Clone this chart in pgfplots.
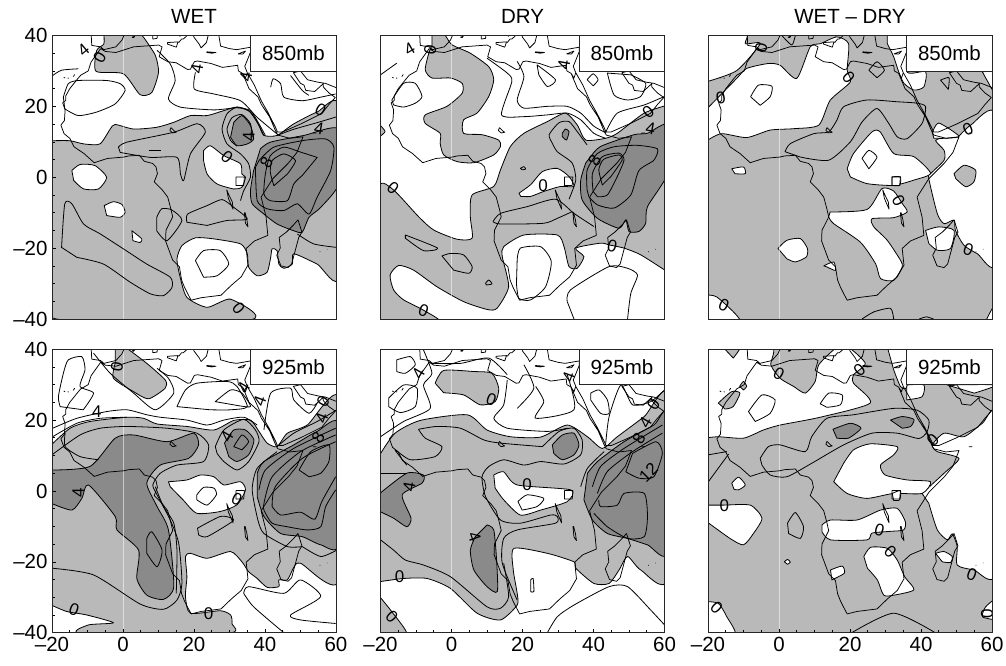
\documentclass[border=0pt]{standalone}
\usepackage{pgfplots}
\pgfplotsset{compat=1.18}
\usepackage{pgfplotstable}
\usepackage{fontspec}
\setmainfont{Liberation Sans}
\definecolor{lg}{HTML}{B9B9B9}
\definecolor{dk}{HTML}{8A8A8A}
\newcommand\tfont{\fontsize{20.5}{23}\selectfont}
\newcommand\lfont{\fontsize{17}{17}\selectfont}
\pgfplotsset{ctr/.style={draw=black,line width=.8pt,line join=round,smooth,tension=.4}}
\newcommand\LG[1]{\addplot[ctr,fill=lg] coordinates {#1} --cycle;}
\newcommand\WH[1]{\addplot[ctr,fill=white] coordinates {#1} --cycle;}
\newcommand\DK[1]{\addplot[ctr,fill=dk] coordinates {#1} --cycle;}
\newcommand\LN[1]{\addplot[ctr] coordinates {#1};}
\newcommand\CL[1]{\addplot[ctr] coordinates {#1} --cycle;}
\newcommand\lab[3]{\node[rotate=#2,font=\lfont,inner sep=0pt] at (axis cs:#1) {#3};}
\newcommand\meridian{\addplot[draw=white,opacity=.55,line width=.6pt] coordinates {(0,-40) (0,40)};}
\newcommand\level[1]{\draw[fill=white,draw=black!85,line width=.8pt] (axis cs:36,30) rectangle (axis cs:60,40); \node[font=\tfont] at (axis cs:48,35) {#1};}
\newcommand\coastline{\addplot[draw=black,line width=.75pt,line join=round] table[x=x,y=y] {\coast};}
\pgfplotstableread{
x y
-6.3 36.3
-9 32.5
-9.8 30
-11.9 28.8
-13 27.5
-15 25
-16.1 23
-16.1 21.7
-17 21
-16.3 19
-16.5 16
-17.5 14.7
-16.6 12.3
-15 11
-13.8 8.6
-11 6.7
-8.1 4.1
-4.4 5.3
0.3 5.7
1.5 6
4.6 6.2
6 4.5
8.3 3.9
9.3 2.9
9.7 1
8.8 -1.3
11 -3.5
12.6 -5.6
13.5 -9
14 -11.2
12.1 -15
12 -18
14 -23.4
15.9 -25.3
16.5 -29
17.3 -31
18.2 -32.8
19.2 -34.7
22 -34
27.6 -33.3
30.5 -30.5
33.3 -28.1
35.2 -24.8
34.7 -20.1
37 -18
40.8 -16.4
40.3 -11.2
39.5 -8
38.9 -5.6
42.2 -0.4
46.5 3.9
49 7
50.7 11.4
47 11
43.6 11.9
43 13
41.3 17
39 20.5
38 22.7
35.5 25
33.7 29.3
32.5 30
32.3 31.6
28 31
24.8 32.1
21 32.8
20.1 32.6
19 30.5
18.2 30.4
15 32.3
12.6 32.6
10.2 34
11 36.8
10 37.3
3 36.8
-2 35.2
-5 35.5
-6.3 36.3
nan nan
33.7 29.3
34.5 28
35 29.5
37 26
39 21.5
41 18
43 14
43.5 12.8
45 12.8
50 15
53 16.5
56 18
58 20.5
59.8 22.5
58 23.8
56.4 25.5
56.4 26.4
54 24.2
51.5 24.5
51 26
50 26.5
48 29.5
50 30
52 27.5
55 26.8
57 26.5
60 25.3
nan nan
35 29.5
34.3 31.3
35 33
36 35.5
36 36.7
32 36
30 36.3
27.5 37
27 40
nan nan
26 40.5
24 40
23.5 38
22 36.5
21.5 37.5
20 39.5
19.5 41
nan nan
15.7 38
16.5 39
17 39
18.3 40.2
16.9 40.4
16 39.8
15.7 40.2
14 41
nan nan
12.5 38
15.5 38.2
15 36.7
12.5 37.6
12.5 38
nan nan
8.4 39
9.6 39.2
9.7 41
8.3 41
8.4 39
nan nan
23.6 35.4
26.2 35.2
25 35
23.6 35.2
23.6 35.4
nan nan
32.4 34.8
34.5 35.6
33.8 34.8
32.4 34.8
nan nan
-9 41
-8.8 37.2
-6.3 36.8
-5.4 36
-2 36.8
-0.3 38.7
0.5 40.5
nan nan
2.5 39.5
3.3 39.8
3 39.4
2.5 39.5
nan nan
-16.7 28.2
-16.3 28
nan nan
-15.6 28
-15.3 27.9
nan nan
-14 28.4
-13.6 29
nan nan
55.4 -21
55.6 -21
nan nan
57.4 -20.3
57.6 -20.3
nan nan
53.5 12.5
54.5 12.5
nan nan
31.8 0.1
34.2 0.1
34 -2.3
31.8 -2.3
31.8 0.1
nan nan
29.2 -3.5
29.7 -6
31 -9
30.8 -7
29.6 -4.5
29.2 -3.5
nan nan
34.2 -10
34.5 -13
35.2 -14
34.9 -12
34.4 -10
34.2 -10
nan nan
13.5 14
14.5 13
15 12.7
14 12.5
13.2 13.2
13.5 14
nan nan
49.3 -12
50.4 -15.5
49.5 -17
47.5 -24.5
46.5 -25.5
44.5 -25
43.3 -22
44.3 -20
44 -17
46 -15.5
48 -13.5
49.3 -12
}\coast
\pgfplotsset{panel/.style={width=284pt,height=283.5pt,scale only axis,xmin=-20,xmax=60,ymin=-40,ymax=40,axis on top,unbounded coords=jump,
  tick align=inside,major tick length=4pt,minor tick length=3pt,tick style={black,line width=.6pt},axis line style={black!85,line width=.9pt},
  tick label style={font=\tfont},xtick pos=bottom,ytick pos=left,xtick=\empty,ytick=\empty,
  title style={font=\tfont,at={(0.5,1)},anchor=south,yshift=2pt}},
  xax/.style={xtick={-20,0,20,40,60},xticklabels={–20,0,20,40,60},minor xtick={-15,-10,-5,5,10,15,25,30,35,45,50,55},xticklabel style={yshift=-1pt}},
  yax/.style={ytick={-40,-20,0,20,40},yticklabels={–40,–20,0,20,40},minor ytick={-35,-30,-25,-15,-10,-5,5,10,15,25,30,35},yticklabel style={xshift=-1pt}}}
\begin{document}
\begin{tikzpicture}[x=1pt,y=1pt]
\path[use as bounding box] (0,0) rectangle (1006,666);
% ---------- WET 850
\begin{axis}[panel,yax,at={(52pt,347pt)},anchor=south west,title={WET}]
\LG{(-20.2,10.3)(-15,10.3)(-11,9.4)(-6.5,9.4)(-3.6,13.6)(-2.2,14.9)(3,13.6)(9.5,14.1)(14.3,15.5)(19,17.4)(23.7,17.4)(28.4,18.8)(32.1,19.8)(35.9,18.4)(38.3,14.6)(39.7,11.8)(43.4,11.8)(48,15)(54.7,18.4)(61,19.6)(61,-27.8)(54.7,-24.5)(48.1,-21.6)(47.7,-24.5)(45.3,-25.7)(43.9,-24.5)(43.4,-20.7)(42,-20.2)(41.6,-22.6)(40.6,-26.8)(37.8,-27.8)(35.4,-25.4)(35,-21.6)(33.1,-18.8)(25.6,-17.4)(20.4,-17.1)(16.6,-19.3)(15.2,-23.1)(16.1,-28.2)(18,-33.9)(23.7,-36.7)(30.3,-34.4)(35.9,-40.2)(-17.3,-40.2)(-20.2,-36.2)}
\LG{(-5.4,40.5)(-5.4,37.6)(-7.4,35.8)(-7.6,29.9)(0.1,29.2)(4.8,23.3)(8.1,23.9)(10,29.6)(9.1,34.4)(5.8,39.5)(4.8,40.5)}
\WH{(-14.4,1.9)(-12.1,3.6)(-7.9,3.3)(-4.6,0)(-6.9,-3.3)(-11.1,-3.3)(-13.9,-0.9)}
\WH{(-5.3,-8)(-2.7,-6.9)(-0.3,-7.7)(0.6,-9.9)(-0.8,-11.3)(-4.6,-10.8)}
\WH{(2.5,-15.1)(5.3,-17.4)(4.8,-18.4)(2.8,-17.9)}
\WH{(22.7,7.5)(24.6,8.9)(28.4,6.1)(33.1,3.8)(33.5,0.9)(34.5,0)(33.5,-2.8)(31.2,-3.3)(26.5,-1.9)(23.7,0.9)(22.7,4.7)}
\DK{(31.2,15.5)(33.5,17.4)(35.9,14.6)(36.8,10.8)(35,9.4)(32.1,8.9)(30.3,11.3)}
\DK{(38.7,8)(41.5,9.9)(51,11.8)(61,13.6)(61,-1.4)(55.7,-8.5)(52.4,-11.3)(50.5,-15.5)(48.1,-15.1)(43.4,-13.2)(39.7,-10.4)(36.4,-7.5)(35.9,-3.8)(36.8,1.9)}
\meridian
\CL{(-17.3,-19.8)(-16.4,-7.5)(-14.4,-7.5)(-11.1,-13.2)(-6.4,-16)(0.1,-20.2)(6.7,-24.5)(13.3,-28.2)(13.8,-31.1)(11.4,-33.4)(7.7,-32.9)(2,-29.6)(-5.5,-24.5)(-13,-22.6)}
\CL{(-1.3,8.5)(1.1,9.9)(14.3,12.7)(20.9,15.1)(23.2,12.7)(19,6.6)(17.1,-0.9)(16.2,0.9)(15.2,5.6)(7.7,5.6)(-0.8,7)}
\LN{(7.2,7.6)(10.6,7.6)}
\LN{(39.7,11.8)(37.8,15.5)(35.4,18.8)(32.1,19.8)(29.3,17.9)(27.9,13.6)(29.3,9.4)(33.1,6.6)(35.4,3.8)(35.9,0)(34,-3.8)(33.1,-6.6)}
\LN{(36.4,11.3)(35.9,15.1)(33.5,17.7)(30.7,16.8)(29.3,13.6)(30.3,10.4)(32.1,8.8)}
\CL{(18,-12.7)(18.2,-10.4)(23.7,-8)(27.9,-6.3)(31.2,-8.5)(35,-11.8)(29.3,-12.2)(23.7,-13.6)}
\CL{(9.5,-11.3)(10.9,-8.9)(13.7,-9.2)(16.6,-12.2)(12.4,-17.9)(9.5,-15.1)}
\CL{(-16.8,22.6)(-15.4,26.4)(-12.6,27.3)(-4.6,27.3)(-0.8,26.4)(0.6,24.5)(-2.2,20.7)(-7.4,18.4)(-12.6,17.4)(-16.4,19.3)}
\LN{(-19.8,28.7)(-17.3,30.2)(-12.6,30.6)}
\LN{(9.6,35.8)(13.3,32)(14.7,27.3)(12.8,22.1)(16.1,19.8)(25.6,19)(32.1,19.6)(35.9,18.8)(38.3,15.1)(40.1,11.8)}
\LN{(20.4,29.6)(20.1,24.9)(25.6,23.5)(33.1,21.6)(37.8,16.9)(43.4,12.2)}
\LN{(41.6,25.4)(42.3,27.8)(44.4,26.4)(45.3,22.6)(50.5,21.6)(55.7,22.6)(59.9,23.5)}
\LN{(47.2,28.7)(50.5,24.5)(52.4,23.1)}
\LN{(43.4,11.8)(48,13.5)(55,15.5)(60,17)}
\LN{(60.2,-19.8)(53.7,-18.8)(49.1,-16)}
\CL{(54.7,5.6)(50,7.1)(45.3,8.5)(41.5,6.1)(40.1,0.9)(39.7,-4.7)(41.5,-6.6)(46.3,-6.6)(48.1,-1.9)(50.5,0.5)}
\CL{(37.3,2.8)(37.8,-6.6)(40.6,-8.9)(45.3,-9.4)(49.1,-7.5)(52.4,-10.4)(54.7,-5.6)(58.5,1.9)(59.4,8.5)(57.1,10.8)(51,10.4)(42.5,8.5)(38.3,4.7)}
\CL{(42.5,-2.4)(41.5,1.4)(42,4.7)(45.3,6.6)(48.6,4.7)(46.3,0.9)}
\CL{(20.4,-23.5)(22.7,-20.7)(27.4,-20.7)(29.8,-24.5)(26.5,-27.8)(22.7,-28.2)}
\coastline
\lab{-6.6,33.7}{60}{0}\lab{29.3,5.6}{-40}{0}\lab{55.7,19}{-30}{0}\lab{32.6,-36.9}{-50}{0}\lab{40.4,4.3}{60}{8}\lab{55.2,13.6}{-10}{4}\lab{20.8,30.6}{80}{4}\lab{-11.1,35.8}{40}{4}\lab{35.4,11.3}{90}{4}\lab{34.6,28.4}{80}{4}
\level{850mb}
\end{axis}
% ---------- DRY 850
\begin{axis}[panel,at={(380.5pt,347pt)},anchor=south west,title={DRY}]
\LG{(-5.5,40.5)(-2.2,40.5)(0.1,37.4)(5.3,35)(10.5,31.2)(11.9,27.5)(10.5,22.8)(7.2,18.1)(3.4,16.2)(3.4,12.4)(8.6,12)(13.3,10.5)(13.8,8.7)(11.9,6.3)(6.3,4.1)(1.6,4.4)(-2.2,6.3)(-3.2,9.6)(-3.2,12.4)(-7.4,15.2)(-7.4,17.6)(-1.3,20)(3,23.7)(3,26.5)(-0.3,28)(-5.5,28)(-7.4,30.3)(-6.4,35)(-5.5,37.2)}
\LG{(61,20.4)(54.3,18.1)(46.7,12.4)(43.4,11)(37.8,10.5)(35.4,14.8)(32.1,18.1)(27,15.7)(20.4,12.4)(16.6,8.7)(13.8,2.1)(11.9,-2.6)(5.8,-5)(5.3,-11.1)(5.8,-17.2)(1.6,-17.5)(-5,-14.9)(-9.3,-11.1)(-16.3,-3.6)(-20.2,-2.4)(-21,-20)(-21,-41)(-3.4,-41)(-7.9,-37.5)(-13.5,-34.6)(-16.3,-31.8)(-17.3,-27.6)(-14.9,-24.9)(-10.7,-26.2)(-4.1,-30.9)(3.4,-35.1)(10,-37.3)(12.8,-37)(16.1,-30.9)(14.3,-22.4)(14.7,-19.6)(20.4,-16.3)(29.8,-16.3)(31.7,-19.6)(33.1,-25.2)(35.4,-25.7)(37.3,-22.4)(35,-20)(42,-18.6)(44.4,-19.1)(48.6,-20)(53.3,-21.9)(61,-26.8)}
\LG{(-20.2,14.8)(-18.7,12.9)(-20.2,11.5)}
\WH{(19,-4.5)(22.3,-2.1)(25.6,1.6)(29.8,2.5)(33.1,0.2)(34.5,-2.6)(30.7,-2.6)(26,-4)(22.3,-5.4)(19.5,-5.4)}
\DK{(39.2,5.8)(42,8.7)(51.4,12)(55.2,12.4)(61,14.8)(61,1.4)(55.2,-8.3)(54.7,-13)(52.8,-15.3)(50,-15.3)(49.1,-12)(47.2,-14.4)(41.1,-11.6)(36.8,-6.4)(36.4,-0.8)(37.8,4)}
\DK{(31.2,12.4)(32.1,13.6)(33.1,12.9)(32.4,10.5)(31.2,11.5)}
\meridian
\LN{(28.4,9.6)(27.5,12)(30.3,15.4)(33.1,15.7)(35.4,12.9)(38.2,9.1)}
\LN{(28.4,9.6)(29.8,7.2)(34,4)(35,-0.8)(33.1,-6.2)}
\LN{(11.7,-12.5)(13.8,-10.2)(21.3,-8.3)(29.3,-6.2)(34.5,-10.2)(40.1,-13.9)}
\LN{(11.7,-12.5)(13.8,-13.2)(25.9,-13)(29.8,-11.6)(34,-9.7)}
\CL{(-13,-16.3)(-3.9,-20)(-7.9,-20.7)(-13,-17.2)}
\CL{(-2.7,-22.2)(-0.3,-21.5)(3.4,-21.9)(5.8,-25.2)(4.9,-27.1)(0.6,-26.2)}
\CL{(9.6,-29.9)(10.5,-29)(11.4,-30.1)(9.8,-30.4)}
\CL{(19.4,2.5)(20.4,3)(20.9,2.3)(19.9,2.1)}
\CL{(18.5,-23.3)(19.4,-20)(25.1,-19.6)(28.1,-23.8)(26.5,-30.9)(22.3,-34.6)(19,-34.2)(18.3,-30)}
\LN{(32.6,-35.1)(33.5,-31.8)(44.4,-25.2)(49.6,-25.7)(52.4,-27.6)(50.5,-32.8)(49.6,-40)}
\LN{(32.6,-35.1)(34.5,-40)}
\CL{(24.1,31.7)(29.3,27.5)(27,25.6)(24.6,28.9)}
\CL{(38.2,27.5)(39.9,29.2)(41.3,27.5)(39.9,25.8)}
\LN{(18.5,32.7)(20.4,28.4)(18.5,21.8)(20.4,19.5)(26.9,20)(32.6,20)(36.4,18.1)(40.1,14.4)(43.4,12.6)}
\LN{(10,33.6)(15.7,29.4)(17,27)(14.1,17.6)(20.4,17.1)(27,17.6)(32.6,18.1)(36.4,16.2)(40.1,12.4)(43.4,11)}
\CL{(43.9,29.4)(45.8,23.2)(49.6,21.8)(53.3,22.8)(54.7,26.5)(50.5,28.9)}
\LN{(43.4,12.6)(46.7,18.1)(54.3,20.4)(60,22.8)}
\CL{(-16.8,21.8)(-13.5,26.5)(-10.2,26.5)(-8.3,22.8)(-10.2,20.9)(-13.5,19.8)(-16.3,20.4)}
\LN{(-20,28.9)(-15.4,32.2)}
\CL{(38.2,-3.6)(38.2,2)(41.1,6.7)(45.8,8.6)(52.4,9)(58,8)(57,4.8)(52.8,1.9)(50.5,-5)(45.8,-8.7)(41.1,-7.8)(38.7,-5.5)}
\CL{(39.9,-4)(39.7,1.1)(42.5,5.8)(47.2,6.8)(48.6,4.9)(46.7,0.2)(43.9,-5)(41.1,-5.5)}
\CL{(42.5,-2.2)(41.5,2.1)(42.9,5.1)(47.2,6.3)(48.1,4.9)(44.9,0.2)}
\coastline
\lab{-16.5,-3.1}{-40}{0}\lab{-7.9,-37.5}{-20}{0}\lab{25.8,-2.4}{0}{0}\lab{45.3,-19.4}{-15}{0}\lab{55.4,18.3}{40}{0}\lab{-6,36}{80}{0}\lab{40.3,4.6}{60}{8}\lab{56.1,13.8}{-10}{4}\lab{31.7,31.7}{80}{4}\lab{-11.8,36.1}{30}{4}
\level{850mb}
\end{axis}
% ---------- WET-DRY 850
\begin{axis}[panel,axis background/.style={fill=lg},at={(708pt,347pt)},anchor=south west,title={WET – DRY}]
\WH{(-20.2,19.4)(-11.9,27.9)(-9.1,30.7)(-3,32.1)(0.3,31.6)(5,27.9)(8.8,36.8)(11.7,37.7)(16.3,39.6)(19.6,37.7)(19.2,30.2)(20.1,26.9)(14.4,21.7)(11.2,14.7)(4.1,13.7)(-2.5,13.3)(-9.1,11.2)(-16.2,12.3)(-20.2,10.4)}
\WH{(-20.2,41)(-9.1,41)(-9.5,37.7)(-5.3,37.7)(-11.9,30.1)(-20.2,27)}
\WH{(30.5,41)(36,41)(36,29.8)(41.3,29.8)(40.8,25.5)(38,24.6)(35.2,26.5)(33.7,29.8)(32.3,34)(30.5,37.7)}
\WH{(57.3,29.7)(61,29.7)(61,23)}
\WH{(19.2,2.4)(21,6.7)(26.2,12.8)(28.5,12.8)(32.3,6.7)(38,5.8)(42.7,1.1)(38,-0.8)(32.3,-2.3)(24.8,-1.8)(20.1,0.1)}
\WH{(50.7,11.6)(54,14.7)(61,17.5)(61,-24)(55.9,-21.6)(52.1,-19.2)(49.7,-15)(49.3,-12.1)(46.5,-13.1)(44.6,-10.3)(42.2,-0.4)(42.7,1)(46.5,4.8)(46.5,7.6)(44.1,10.4)(47.4,11.4)}
\WH{(43.2,12.6)(45,15.3)(50.7,11.6)(47,11)(43.6,11)}
\LG{(49.3,1)(52.1,3.4)(55.4,2)(54.9,-1.3)(52.6,-2.7)(49.8,-0.4)}
\WH{(41.3,-15)(45,-14)(49.3,-15)(48.3,-20.1)(44.6,-20.6)(42.2,-18.7)}
\WH{(14.4,-9.8)(24.8,-9.1)(29,-3.2)(32.3,-3.9)(34.7,-7.4)(36.1,-9.8)(32.3,-11.4)(26.2,-11.7)(26.7,-14)(30.5,-17.8)(34.2,-23.4)(34.7,-25.3)(32.3,-29.1)(28.6,-28.6)(27.2,-24.4)(22.9,-18.3)(15.4,-13.1)(14,-11.2)}
\WH{(-13.3,2.4)(-10,2.9)(-9.5,1)(-12.4,1)}
\WH{(-0.3,-20.1)(2.2,-17.8)(6,-17.3)(8,-20.1)(7.7,-22.5)(4.6,-23.9)(2.2,-23)}
\WH{(12.6,-25)(15.4,-23.9)(15.9,-26.3)(13.5,-25.3)}
\WH{(31.8,0.1)(34.2,0.1)(34,-2.3)(31.8,-2.3)}
\WH{(-21,-33.3)(-17.5,-33.8)(-11,-40.5)(-21,-41)}
\WH{(58.3,-40.5)(60.5,-36.5)(61,-41)}
\meridian
\CL{(1.7,7.2)(3.2,9.5)(9.8,12.3)(14,12.8)(16.3,16.1)(18.2,19.9)(24.8,21.8)(33.3,21.3)(38.9,20.9)(41.3,19.9)(40.3,15.2)(36.1,10.9)(33.3,11.4)(30.9,15.2)(27.6,19.4)(23.4,15.6)(20.1,10)(14,4.8)(6,5.7)}
\CL{(23.4,5.3)(25.3,7.6)(27.6,5.7)(25.3,2.4)}
\CL{(-8,22.7)(-5.8,26)(-2,25.7)(-2.5,22.7)(-5.3,20.3)}
\CL{(25.3,30.2)(27.6,32.6)(29.7,30.2)(27.6,28.1)}
\CL{(45.5,27.4)(47.9,28.1)(47.7,24.8)}
\LN{(0.8,40)(3.6,37.3)(4.6,40)}
\LN{(23.4,-40)(26.7,-38)(31.4,-37)(32.3,-40)}
\LN{(39.5,-40)(41.5,-39.4)(43.5,-40)}
\coastline
\lab{-5,36.5}{80}{0}\lab{19.6,28.1}{-50}{0}\lab{-16.4,22.5}{10}{0}\lab{33.7,-6.5}{-60}{0}\lab{53.2,13.5}{25}{0}\lab{53.3,-20.3}{-20}{0}\lab{-15.5,-36}{-25}{0}
\level{850mb}
\end{axis}
% ---------- WET 925
\begin{axis}[panel,xax,yax,at={(52pt,33.3pt)},anchor=south west]
\LG{(-20.2,13)(-14.9,17.7)(-9.3,19.6)(1.1,20.8)(5.8,20.5)(9.6,18.9)(18,18.2)(25.6,17.2)(31.2,19.9)(35.9,20)(38.3,16.8)(40.6,13.5)(43.4,12.5)(46.3,16.3)(51.9,18.6)(61,26)(61,-25)(50,-20.4)(48.1,-21.6)(46.3,-25.1)(43.9,-25.1)(43.9,-27)(40.6,-27.2)(37.8,-24.7)(35.4,-22.8)(33.5,-20)(30.3,-17.1)(23.7,-19)(19,-17.6)(17.6,-18.5)(18,-24.2)(17.6,-29.8)(19,-34.5)(27.4,-33.8)(30.3,-35)(30.7,-37.4)(29.3,-40.2)(-11.6,-40.2)(-9.7,-37.8)(-2.7,-37.2)(-10.2,-35)(-15.9,-34)(-20.2,-32.2)}
\LG{(-2.2,40.5)(0.6,40.5)(6.7,36)(11.9,31.3)(11.9,29)(7.2,26)(3,28)(-2.7,31.8)(-2.2,36)}
\WH{(12.8,2.6)(18,3.1)(21.8,4.5)(25.6,4)(28.4,1.7)(33.1,2.6)(34.5,0.3)(32.1,-3.9)(27.4,-5.8)(20.8,-6.3)(17,-2.6)(13.3,1.2)}
\DK{(-20.2,5.9)(-9.3,6.9)(-2.2,14.9)(3,15.8)(12.4,13.9)(19.9,16.3)(21.3,13)(18.5,9.2)(10.5,7.3)(6.7,2.2)(9.6,-4.4)(12.8,-11)(14.3,-27)(11.4,-30.6)(6.7,-29.4)(3.9,-24.7)(4.4,-16.7)(-1.7,-11)(-2.2,-7.2)(-9.7,1.7)(-11.6,-2.1)(-14.4,-5.4)(-20.2,-3.5)}
\DK{(28.6,13.5)(31.2,17.2)(34.5,17.2)(36.9,14.4)(35.4,10.2)(32.1,8.3)(29.8,9.7)}
\DK{(37.8,5)(39.7,8.3)(48.1,13)(54.7,16.8)(61,18.6)(61,-14.8)(55.7,-15.2)(50.5,-12.9)(44.4,-12)(39.7,-7.2)(37.8,-1.6)}
\meridian
\LN{(-20,-21.8)(-8.3,-23.7)(4.8,-31.9)(11.4,-33.4)(15.2,-30.8)(16.6,-26.1)(15.7,-14.8)(13.3,-8.2)(9.6,-1.1)(8.4,1.7)(10.5,5)(15.2,7.3)(22.7,8.3)(24.1,13)(20.8,16.3)(12.4,17.7)(1.1,18.2)(-6.4,17.7)(-12.1,15.8)(-20,10.2)}
\LN{(9.1,1.2)(11.4,-4.4)(14.3,-9.1)(15.2,-16.7)(15,-28.9)}
\LN{(-16.3,16.3)(-16.3,12.5)(-12.1,9.7)(-6.9,8.8)}
\CL{(21,-10.5)(27.4,-7.2)(30.7,-7.7)(30.7,-8.7)(23.7,-12.9)(21.3,-12.4)}
\CL{(20.8,-1.1)(22.7,1)(25.6,0.8)(26.3,-1.1)(23.7,-4)(20.8,-2.5)}
\CL{(6.7,-13.4)(8.1,-11.5)(11,-16.7)(9.6,-21.4)(6.7,-17.6)}
\CL{(26,12.5)(28.4,17.2)(34,20.2)(37.3,17.2)(38.3,13.9)(35.4,8.3)(32.1,5.9)(28.4,8.3)(26.5,10.6)}
\CL{(31.2,12.5)(33.5,15.8)(35.4,13.9)(33.5,11.6)}
\LN{(-19.8,17.7)(-13,20.5)(-4.6,22.4)(1.1,22.9)(6.7,21.5)(10.5,20.8)(18,20)(23.7,18.6)(28.4,20)(34,20.8)(37.8,18.6)}
\LN{(-19.8,15.3)(-13,19.1)(-6.4,20.5)(1.1,20.8)}
\CL{(-17.7,23.8)(-18.2,26.6)(-16.8,33.2)(-15.4,37)(-11.6,37.9)(-10.7,34.2)(-12.1,29.5)(-8.3,27.6)(-11.2,22.9)}
\LN{(-8.3,38.9)(-3.6,33.2)(3,27.6)(9.1,22.9)(14.3,27.6)(12.8,31.8)(9.6,34.6)}
\CL{(15.2,23.8)(17.6,28.5)(20.8,30.4)(29.3,30.9)(32.1,29.5)(35,23.8)(30.3,22.9)(24.6,22.9)}
\CL{(26,25.2)(30.3,28.5)(33.5,27.6)(35.9,23.8)(31.2,24.3)}
\LN{(39.7,17.2)(41.6,27.6)(47.2,29)(48.1,25.7)(52.4,21.9)(54.7,24.8)}
\LN{(43.4,12.5)(48.1,16.3)(54.7,19.6)(60.2,22.9)}
\LN{(34,-28.9)(35.4,-27)(45.3,-28.9)(50,-25.1)(55.7,-29.8)(47.2,-35)(50,-36.4)(59.9,-37.4)}
\LN{(34,-28.9)(36.8,-32.7)(45.3,-40)}
\LN{(50.5,-15.7)(55.7,-18.5)(60.2,-16.7)}
\LN{(38.3,0.3)(40.1,5.9)(48.1,12)(59.9,17.7)}
\LN{(39.7,-3.5)(42,4)(50,11.1)(59.9,15.8)}
\LN{(42,-4.4)(42.9,1.2)(50.5,9.2)(59.9,13.9)}
\LN{(59.9,0.3)(57.1,-4.4)(55.7,-10.1)(51.9,-11)(46.3,-10.1)(42,-9.1)(39.7,-5.4)(39.7,-3.5)}
\LN{(42,-4.4)(44.4,-6.8)(50,-6)(54,-8)(56,-3)(59.9,4)}
\CL{(49.6,5.9)(52.9,11.1)(58,13)(58,8.3)(55.7,5)(52.4,4)}
\LN{(43.4,11.1)(37.8,6.4)(36.4,0.3)(38,-8.2)(39.7,-12)(46.3,-15.7)(50.5,-15.7)}
\coastline
\lab{-1.7,34.9}{80}{0}\lab{-7.4,22.4}{0}{4}\lab{-12.6,-0.5}{90}{4}\lab{29.3,15.5}{60}{4}\lab{32.1,-2.4}{-25}{0}\lab{24.1,-34.5}{0}{0}\lab{-13.8,-33.4}{-20}{0}\lab{56.4,25.2}{60}{0}\lab{55,15}{60}{8}\lab{56,20.5}{70}{4}\lab{38.5,25.5}{70}{4}\lab{34,29.3}{60}{4}
\level{925mb}
\end{axis}
% ---------- DRY 925
\begin{axis}[panel,xax,at={(380.5pt,33.3pt)},anchor=south west]
\LG{(-20.2,10.2)(-15.9,16.3)(-8.8,19.9)(4.4,21.5)(10,17.2)(16.6,15.3)(25.1,15.2)(32.6,18.6)(38.3,15.3)(42.5,12)(46.7,15.3)(54.3,21)(61,26.8)(61,-24.4)(53.3,-22.3)(49.6,-18.5)(47.2,-22.3)(44.4,-26.1)(40.1,-26.1)(35,-21.8)(34.5,-20)(27,-17.6)(17.6,-16.2)(17.4,-22.3)(18.5,-28.9)(18.5,-32.2)(13.8,-36.4)(7.2,-34.5)(-0.3,-27.5)(-6.9,-24.7)(-13.5,-24.7)(-20.2,-25.6)}
\WH{(11.9,4.5)(14.7,5.4)(18.5,1.7)(33.6,0.3)(32.6,-3)(25.1,-5.4)(19.4,-6.8)(14.7,-2.5)(12.3,0.8)}
\LG{(-4.6,30.4)(-2.2,34)(6.3,33.7)(11.4,33.2)(13.3,29)(12.3,25.2)(8.1,24.3)(3.4,27.1)(-2.2,27.7)}
\LG{(-21,-28.9)(-16.8,-34.1)(-12.6,-40.5)(-21,-41)}
\DK{(-20.2,-0.7)(-12.6,5)(-7.9,4.5)(-8.3,2.2)(-13.9,-1.1)(-11.4,-7.7)(-12.6,-10.1)(-16.3,-7.7)(-20.2,-5.8)}
\DK{(10,-9.6)(11.9,-11)(12.7,-19.5)(12.9,-28.4)(10,-27)(6.3,-22.3)(5.3,-16.7)(6.7,-12.9)}
\DK{(28.4,13)(31.2,15.8)(34.5,16.3)(35.9,13)(34.5,10.2)(31.2,8.8)(28.8,10.6)}
\DK{(38.3,5)(41.1,8.3)(48.6,13.9)(57,18.6)(61,21.6)(61,-17)(55.2,-15.2)(49.6,-13.4)(43.9,-12)(39.7,-8.2)(37.3,-2.5)}
\meridian
\LN{(25.6,12.5)(30.3,16.8)(34.5,17.7)(36.8,14.4)(36.4,10.2)(31.7,7.6)(25.1,8.3)(20.4,7.3)(14.7,8.8)(10.5,6.9)(8.6,4)(9.6,-1.6)(13.8,-8.2)(19.4,-9.1)(27.9,-6.8)(29.8,-7.2)(29.3,-9.1)(18.5,-11)(14.7,-13.4)(14.3,-20.4)(18.5,-30.8)}
\LN{(-9.3,17.4)(-4.1,18.2)(2.5,17.7)(9.1,14.4)(13.8,13.5)(25.6,12.5)}
\LN{(-9.3,17.4)(-7.4,14.9)(-2.7,12.5)(-4.6,9.7)(-11.6,8.8)(-15.9,11.6)(-12.6,7.3)}
\LN{(-20,5)(-12.6,5)}
\LN{(-20,-13.8)(-16.3,-16.7)(-13,-19.5)(-7.9,-20.9)(-0.3,-24.2)(10,-32.7)(13.8,-33.1)(16.1,-29.8)(14.7,-20.4)}
\CL{(18.7,-3)(21.3,-1.1)(26,-2.1)(24.1,-4.4)(19.9,-5.4)}
\CL{(22.3,-25.1)(23,-24.7)(23.2,-28.4)(22.3,-28.4)}
\CL{(-15.4,37)(-11.6,37.9)(-10.2,35.6)(-13,33.2)(-15.4,33.7)}
\CL{(-17.7,26.2)(-13.5,29.9)(-9.7,29)(-10.2,23.8)(-14.4,22.1)(-17.7,23.8)}
\LN{(-7.9,39.8)(-5.5,33.2)(-7.9,29.9)(-6,23.3)(-13.5,19.6)(-20,15.3)}
\LN{(-5.5,36)(2.5,36)(10.5,37.5)(15.7,32.8)}
\LN{(15.7,31.3)(14.7,24.3)(11.9,20.5)(15.7,17.7)(27,16.8)(32.6,17.7)}
\LN{(18.5,23.3)(23.2,29)(20.4,35.6)}
\LN{(23.7,29.5)(26,25.2)(23.7,20.5)(34.5,22.9)(32.6,32.8)}
\CL{(39.2,27.6)(41.6,28.5)(43.9,25.7)(44.4,21.9)(42,21.9)(39.2,25.7)}
\LN{(43.4,13)(44.4,21)(47.7,29.9)(51,24.3)(56.1,25.2)(60,28.5)}
\LN{(27,-40)(29.8,-35.5)(34.5,-32.2)(44.4,-27)(49.6,-27)(56.1,-33.6)(60,-37.8)}
\LN{(36.4,1.2)(38.3,6.4)(43,11.1)}
\LN{(39.7,1.2)(42,6.9)(48.6,12)(59.4,18.6)}
\LN{(41.1,-0.7)(43.9,5.5)(51,11.1)(59.4,16.3)}
\CL{(51,10.6)(57.6,13.9)(59.4,10.6)(57,4)(52.8,3.6)(49.1,5.4)}
\LN{(41.5,-2.5)(42,-4.4)(46.7,-4)(48.6,-0.7)(54.3,-0.7)(55.2,-7.2)(54.3,-12.9)(49.6,-13.4)(43.9,-10.1)(40.1,-6.3)}
\coastline
\lab{11.2,25.7}{-20}{0}\lab{-14.6,-24.2}{0}{0}\lab{21.3,1.7}{0}{0}\lab{-16.8,-35.5}{-45}{0}\lab{-11.9,1.2}{80}{4}\lab{6.5,-13.1}{-70}{4}\lab{55.5,5.2}{45}{12}\lab{52.8,14.8}{60}{8}\lab{54.6,19.2}{60}{4}\lab{56.9,24.5}{60}{0}\lab{-9.3,33.2}{60}{4}\lab{33,32}{70}{4}
\level{925mb}
\end{axis}
% ---------- WET-DRY 925
\begin{axis}[panel,xax,axis background/.style={fill=lg},at={(708pt,33.3pt)},anchor=south west]
\WH{(-21,41)(-2.3,41)(-2.3,35.6)(0.3,31.8)(4.1,29.5)(7.4,27.6)(10.2,30.9)(11.2,35.6)(16.3,40.5)(19.6,40.5)(24.3,36)(21,32.8)(21,30.4)(25.7,24.8)(11.6,20.8)(0.3,18.6)(-4.4,17.2)(-10,14.9)(-17.1,15.3)(-21,14.9)}
\LG{(-15.7,40.5)(-11,40.5)(-12.9,37.5)}
\LG{(-17.1,24.8)(-13.4,28)(-11,27.6)(-12.9,23.8)(-15.2,23.1)}
\LG{(-11.1,29.5)(-10,30.9)(-9.1,29.5)(-10,28.5)}
\DK{(15.2,17.4)(20.1,19.1)(23.1,17.7)(19.6,14.9)(16.3,14.9)}
\DK{(31.4,20)(34.7,21)(38,20.2)(37.1,18.2)(34.7,17.7)}
\WH{(40.3,-0.7)(46.5,5)(50.7,9.2)(44.6,11.1)(43.2,13)(46.5,16.3)(52.1,15.3)(57.3,19.1)(61,21.2)(61,-23)(54.9,-22.3)(50.2,-20.9)(50.2,-15.7)(48.8,-12.1)(47.4,-13.8)(44.6,-11)(42.2,-3.5)}
\WH{(15.4,2.6)(19.2,-0.7)(24.8,-2.1)(32.3,-0.7)(40.3,-0.7)(42.7,2.6)(36.1,3.1)(29.9,4.5)(28.6,7.3)(32.3,10.2)(33.3,12.5)(25.7,13.3)(21,11.6)(18.2,7.8)}
\WH{(36,29.9)(40.8,29.9)(40.3,26.6)(36,25.7)}
\WH{(47.4,29.9)(61,29.9)(55,27.6)}
\WH{(30.4,41)(36,41)(36,29.5)(34.2,29.5)(32.3,34.2)}
\WH{(-21,-4)(-15.7,-4)(-8.1,-4)(-4.8,-7.7)(-7.2,-12)(-10,-15.2)(-13.8,-13.4)(-21,-8.2)}
\WH{(-13.3,2.2)(-11.4,3.9)(-9.5,1.7)(-11.4,0.3)(-12.7,0.5)}
\WH{(12.1,-9.6)(14.5,-8.2)(22,-8.2)(28.6,-5.4)(33.3,-4.9)(35.6,-8.7)(35.1,-11)(31.4,-11.4)(26.2,-11.9)(24.8,-13.8)(14.5,-13.8)(12.1,-11.5)}
\WH{(23.9,-18.5)(25.8,-15.9)(30.5,-16.2)(33.3,-19.5)(35.4,-24.2)(38,-27.9)(32.4,-29.4)(29.5,-29.4)(27.7,-25.1)(24.9,-21.8)}
\WH{(14.5,-22.3)(17.8,-21.2)(18.4,-23.2)(14.9,-25.1)}
\WH{(1.5,-20)(2.4,-19.3)(3.2,-20.1)(2.4,-20.7)}
\WH{(31.9,-0.7)(34.2,0.1)(34,-2.5)(32.3,-2.7)}
\WH{(-21,-31.2)(-17.1,-31.7)(-14.7,-35.5)(-12.4,-40.5)(-21,-41)}
\WH{(61,-30.3)(58.2,-32.7)(57.3,-35.5)(61,-36.4)}
\WH{(44.1,-17.6)(46.5,-17.1)(48.8,-18.5)(48.3,-20.2)(46,-20)}
\meridian
\CL{(-5.3,9.2)(-3,12.5)(0.3,13)(7.4,11.1)(9.2,15.3)(13.5,20.5)(21,21.5)(32.3,23.3)(38.9,22.8)(42.2,20)(41.7,16.7)(39.4,14.8)(33.3,16.3)(26.2,16.3)(18.2,13)(9.2,7.8)(2.2,4)(-2.5,4.5)(-4.8,7.3)}
\CL{(-8.6,22.4)(-4.8,27.1)(-1.1,25.7)(-2.5,21.9)(-6.7,19.6)}
\CL{(11.6,24.6)(14,27.6)(17.8,27.1)(17.3,24.3)(13.5,23.6)}
\CL{(2.4,-9.1)(4.6,-6.1)(6.9,-10.1)(6,-13.4)(2.7,-12)}
\LN{(-19.9,2.6)(-14.2,10.4)}
\LN{(-19.9,10.2)(-14.7,11.1)}
\LN{(20.5,-40)(32.3,-34.5)(44,-40)}
\coastline
\lab{0,33}{-30}{0}\lab{-15.4,-4.1}{0}{0}\lab{22.7,34.2}{40}{0}\lab{43.3,14.4}{45}{0}\lab{28.3,-11}{-15}{0}\lab{31.4,-17.1}{-45}{0}\lab{54.3,-23.5}{-20}{0}\lab{-17.6,-32.9}{-45}{0}\lab{58.6,-34.8}{90}{0}
\level{925mb}
\end{axis}
\end{tikzpicture}
\end{document}
